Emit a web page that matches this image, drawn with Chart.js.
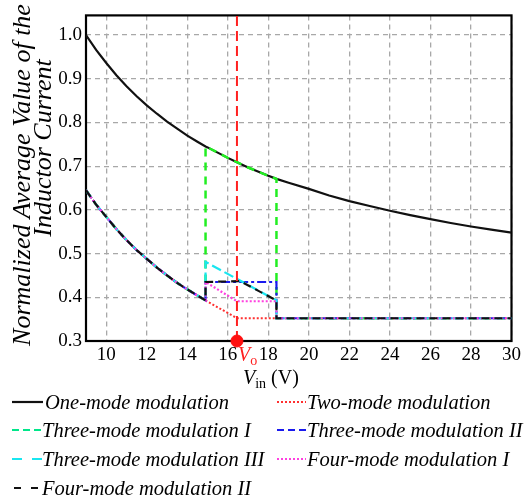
<!DOCTYPE html>
<html>
<head>
<meta charset="utf-8">
<script src="https://cdn.jsdelivr.net/npm/chart.js@4.4.0/dist/chart.umd.min.js"></script>
<style>
  html, body { margin: 0; padding: 0; background: #fff; }
  body { width: 524px; height: 502px; position: relative; overflow: hidden; font-family: 'Liberation Serif', 'Times New Roman', Times, 'DejaVu Serif', serif; color: #000; }
  canvas { position: absolute; left: 0; top: 0; }
  .lbl { position: absolute; white-space: nowrap; font-size: 20px; line-height: 22px; }
  .ytitle { position: absolute; white-space: nowrap; font-style: italic; font-size: 26px; line-height: 26px; transform: translate(-50%, -50%) rotate(-90deg); }
  .leg { position: absolute; white-space: nowrap; font-style: italic; font-size: 20.5px; line-height: 22px; height: 22px; }
  .leg svg { position: absolute; left: 0; top: 0; }
  .leg span { position: absolute; top: 0; }
  sub { font-style: normal; font-size: 14px; vertical-align: -4px; }
</style>
</head>
<body>
<canvas id="chart" width="524" height="502"></canvas>
<div class="ytitle" style="left:22px; top:175px;">Normalized Average Value of the</div>
<div class="ytitle" style="left:43px; top:148px;">Inductor Current</div>
<div class="lbl" style="left:243px; top:366px;"><i>V</i><sub>in</sub> (V)</div>
<div class="lbl" style="left:238px; top:343px; color:#ff2020;"><i>V</i><sub>o</sub></div>
<div id="legend"></div>
<script>
// ---- data
const xTicks = [10, 12, 14, 16, 18, 20, 22, 24, 26, 28, 30];
const yTicks = [0.3, 0.4, 0.5, 0.6, 0.7, 0.8, 0.9, 1.0];

// upper branch (one-mode modulation)
const vinUpper = [9, 9.5, 10, 10.5, 11, 11.5, 12, 12.5, 13, 13.5, 14, 14.5, 14.9, 15, 16, 16.45, 17, 18, 18.4, 19, 20, 21, 22, 23, 24, 25, 26, 27, 28, 29, 30];
const oneMode = [1.000, 0.966, 0.936, 0.908, 0.883, 0.860, 0.839, 0.820, 0.802, 0.786, 0.770, 0.756, 0.745, 0.743, 0.719, 0.709, 0.697, 0.678, 0.671, 0.662, 0.648, 0.633, 0.620, 0.609, 0.598, 0.588, 0.579, 0.570, 0.562, 0.555, 0.548];

// lower branch, common to the multi-mode curves
const vinLower = [9, 9.5, 10, 10.5, 11, 11.5, 12, 12.5, 13, 13.5, 14, 14.5, 14.9];
const lowerBranch = [0.645, 0.612, 0.584, 0.556, 0.531, 0.508, 0.488, 0.468, 0.450, 0.433, 0.418, 0.404, 0.393];

const vo = 16.45;
const vLow = 14.9, vHigh = 18.4;

// tails after the lower branch
const twoModeX = [vo, 30];
const twoModeY = [0.352, 0.352];
const threeIX = [vHigh, 30];
const threeIY = [0.352, 0.352];
const threeIIX = [vLow, vHigh, vHigh, 30];
const threeIIY = [0.435, 0.435, 0.352, 0.352];
const threeIIIX = [vLow, vHigh, vHigh, 30];
const threeIIIY = [0.481, 0.393, 0.352, 0.352];
const fourIX = [vLow, vo, vHigh, vHigh, 30];
const fourIY = [0.435, 0.391, 0.391, 0.352, 0.352];
const fourIIX = [vLow, 16.6, vHigh, vHigh, 30];
const fourIIY = [0.435, 0.437, 0.393, 0.352, 0.352];

const labels = ['One-mode modulation', 'Two-mode modulation', 'Three-mode modulation I', 'Three-mode modulation II',
  'Three-mode modulation III', 'Four-mode modulation I', 'Four-mode modulation II'];

function pts(xs, ys) { return xs.map(function (x, i) { return { x: x, y: ys[i] }; }); }

const lower = pts(vinLower, lowerBranch);
const upper = pts(vinUpper, oneMode);
const upperMid = upper.filter(function (p) { return p.x >= vLow && p.x <= vHigh; });

function line(label, data, color, dash, width) {
  return { label: label, data: data, borderColor: color, borderDash: dash, borderWidth: width || 2,
    pointRadius: 0, fill: false, tension: 0 };
}

const FONT = "'Liberation Serif', 'Times New Roman', Times, 'DejaVu Serif', serif";

const framePlugin = {
  id: 'frame',
  beforeDatasetsDraw(chart) {
    const ctx = chart.ctx, a = chart.chartArea;
    ctx.save();
    ctx.strokeStyle = '#000';
    ctx.lineWidth = 2.2;
    ctx.strokeRect(a.left, a.top, a.right - a.left, a.bottom - a.top);
    ctx.restore();
  }
};

// first dataset is drawn on top
new Chart('chart', {
  type: 'line',
  data: {
    datasets: [
      { label: 'Vo', data: [{ x: vo, y: 0.3 }], showLine: false, pointRadius: 6, pointBackgroundColor: '#ff1010',
        pointBorderColor: '#ff1010', clip: false },
      line('Vo line', [{ x: vo, y: 0.3 }, { x: vo, y: 1.045 }], '#ff2020', [10, 5], 2),
      line(labels[6], lower.concat(pts(fourIIX, fourIIY)), '#111', [8, 5], 2.2),
      line(labels[5], lower.concat(pts(fourIX, fourIY)), '#ff40e0', [2, 2], 2.2),
      line(labels[4], lower.concat(pts(threeIIIX, threeIIIY)), '#19e6f0', [10, 4], 2.2),
      line(labels[3], lower.concat(pts(threeIIX, threeIIY)), '#1a1aee', [9, 3, 3, 3], 2.2),
      line(labels[2], lower.concat(upperMid, pts(threeIX, threeIY)), '#22ee22', [8, 6], 2.5),
      line(labels[1], lower.concat(pts(twoModeX, twoModeY)), '#ff3030', [2, 2], 2),
      line(labels[0], upper, '#111', [], 2.2)
    ]
  },
  options: {
    responsive: false,
    animation: false,
    layout: { padding: { top: 5, right: 11, bottom: 0, left: 0 } },
    plugins: { legend: { display: false }, tooltip: { enabled: false } },
    scales: {
      x: {
        type: 'linear', min: 9, max: 30,
        afterBuildTicks: function (s) { s.ticks = xTicks.map(function (v) { return { value: v }; }); },
        afterFit: function (s) { s.height = 161; },
        grid: { color: '#a8a8a8', lineWidth: 1.3, drawTicks: false },
        border: { display: false, dash: [5, 4] },
        ticks: { color: '#000', font: { family: FONT, size: 19 }, padding: 3, maxRotation: 0, autoSkip: false }
      },
      y: {
        min: 0.3, max: 1.045,
        afterBuildTicks: function (s) { s.ticks = yTicks.map(function (v) { return { value: v }; }); },
        afterFit: function (s) { s.width = 86; },
        grid: { color: '#a8a8a8', lineWidth: 1.3, drawTicks: false },
        border: { display: false, dash: [5, 4] },
        ticks: { color: '#000', font: { family: FONT, size: 19 }, padding: 4,
          callback: function (v) { return v.toFixed(1); } }
      }
    }
  },
  plugins: [framePlugin]
});

// ---- legend (two columns)
const legendItems = [
  { text: labels[0], color: '#111', dash: '', left: 12, sw: 31, tx: 33, top: 391 },
  { text: labels[1], color: '#ff3030', dash: '2,2', left: 277, sw: 29, tx: 30, top: 391 },
  { text: labels[2], color: '#00e68a', dash: '7,4', left: 12, sw: 30, tx: 30, top: 419 },
  { text: labels[3], color: '#1a1aee', dash: '7,4', left: 277, sw: 29, tx: 30, top: 419 },
  { text: labels[4], color: '#19e6f0', dash: '10,10', left: 12, sw: 30, tx: 30, top: 448 },
  { text: labels[5], color: '#ff40e0', dash: '2,2', left: 277, sw: 29, tx: 30, top: 448 },
  { text: labels[6], color: '#111', dash: '7,10', left: 14, sw: 28, tx: 28, top: 477 }
];
const legendBox = document.getElementById('legend');
legendItems.forEach(function (it) {
  const d = document.createElement('div');
  d.className = 'leg';
  d.style.left = it.left + 'px';
  d.style.top = it.top + 'px';
  d.innerHTML = '<svg width="' + it.sw + '" height="22"><line x1="0" y1="11" x2="' + it.sw + '" y2="11" stroke="' + it.color +
    '" stroke-width="2.2"' + (it.dash ? ' stroke-dasharray="' + it.dash + '"' : '') + '/></svg>' +
    '<span style="left:' + it.tx + 'px">' + it.text + '</span>';
  legendBox.appendChild(d);
});
</script>
</body>
</html>
